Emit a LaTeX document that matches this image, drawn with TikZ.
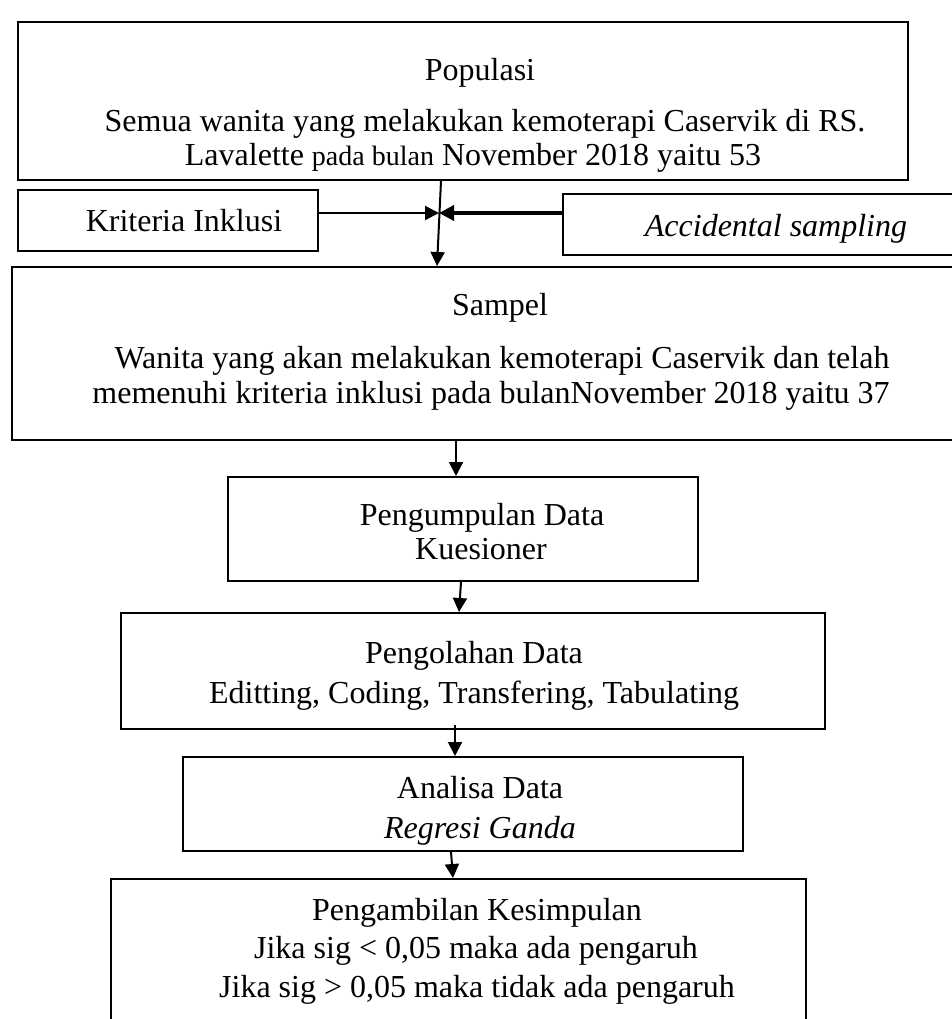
\documentclass[tikz,border=0pt]{standalone}
\usepackage{fontspec}
\setmainfont{Liberation Serif}
\usetikzlibrary{arrows.meta}
\begin{document}
\begin{tikzpicture}[x=1pt,y=-1pt,
  box/.style={draw,line width=2pt,inner sep=0pt,anchor=north west},
  txt/.style={anchor=base,inner sep=0pt,font=\fontsize{32}{38}\selectfont},
  arr/.style={line width=2pt,-{Triangle[length=14pt,width=14pt]}},
  arrthick/.style={line width=4pt,-{Triangle[length=15pt,width=15pt]}}]
\useasboundingbox (0,0) rectangle (952,1019);
\clip (0,0) rectangle (952,1019);
% boxes
\node[box,minimum width=890pt,minimum height=158pt] (pop) at (17,21) {};
\node[box,minimum width=300pt,minimum height=61pt] (krit) at (17,189) {};
\node[box,minimum width=440pt,minimum height=61pt] (acc) at (562,193) {};
\node[box,minimum width=990pt,minimum height=173pt] (samp) at (11,266) {};
\node[box,minimum width=470pt,minimum height=104pt] (kump) at (227,476) {};
\node[box,minimum width=704pt,minimum height=116pt] (olah) at (120,612) {};
\node[box,minimum width=560pt,minimum height=94pt] (anal) at (182,756) {};
\node[box,minimum width=695pt,minimum height=180pt] (simp) at (110,878) {};
% texts
\node[txt] (popt1) at (480,81) {Populasi};
\node[txt] (popt2) at (485,132) {Semua wanita yang melakukan kemoterapi Caservik di RS.};
\node[txt] (popt3) at (473,166) {Lavalette {\fontsize{28}{32}\selectfont pada bulan} November 2018 yaitu 53};
\node[txt] (kritt) at (184,231) {Kriteria Inklusi};
\node[txt] (acct) at (776,236) {\itshape Accidental sampling};
\node[txt] (sampt1) at (500,315) {Sampel};
\node[txt] (sampt2) at (502,368) {Wanita yang akan melakukan kemoterapi Caservik dan telah};
\node[txt] (sampt3) at (491,403) {memenuhi kriteria inklusi pada bulanNovember 2018 yaitu 37};
\node[txt] (kumpt1) at (482,525) {Pengumpulan Data};
\node[txt] (kumpt2) at (481,559) {Kuesioner};
\node[txt] (olaht1) at (474,663) {Pengolahan Data};
\node[txt] (olaht2) at (474,703) {Editting, Coding, Transfering, Tabulating};
\node[txt] (analt1) at (480,798) {Analisa Data};
\node[txt] (analt2) at (480,838) {\itshape Regresi Ganda};
\node[txt] (simpt1) at (477,920) {Pengambilan Kesimpulan};
\node[txt] (simpt2) at (476,958) {Jika sig < 0,05 maka ada pengaruh};
\node[txt] (simpt3) at (477,997) {Jika sig > 0,05 maka tidak ada pengaruh};
% connectors
\coordinate (j) at (439,213);
\draw[arr] (pop.south -| 441,0) -- (samp.north -| 437,0);
\draw[arr] (krit.east |- j) -- (j);
\draw[arrthick] (acc.west |- j) -- (j);
\draw[arr] (samp.south -| 456,0) -- (kump.north -| 456,0);
\draw[arr] (kump.south -| 461,0) -- (olah.north -| 459,0);
\draw[arr] ([yshift=5pt]olah.south -| 455,0) -- (anal.north -| 455,0);
\draw[arr] (anal.south -| 451,0) -- (simp.north -| 453,0);
\end{tikzpicture}
\end{document}
